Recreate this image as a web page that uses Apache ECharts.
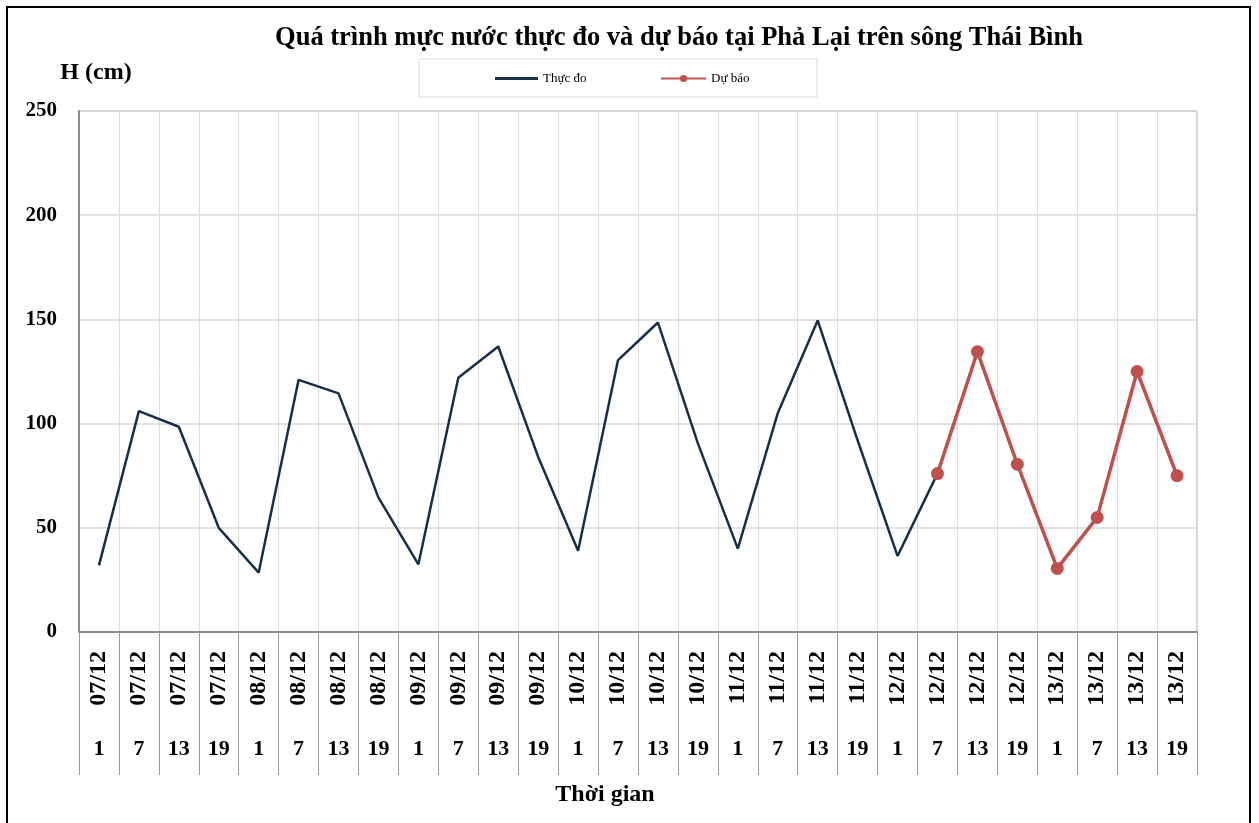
<!DOCTYPE html>
<html>
<head>
<meta charset="utf-8">
<title>Phả Lại</title>
<script src="https://cdn.jsdelivr.net/npm/echarts@6/dist/echarts.min.js"></script>
<style>
html, body { margin: 0; padding: 0; background: #ffffff; }
#main { width: 1259px; height: 823px; }
</style>
</head>
<body>
<div id="main"></div>
<script>
// ngày và giờ của từng mốc
var dates = ['07/12', '07/12', '07/12', '07/12', '08/12', '08/12', '08/12', '08/12',
             '09/12', '09/12', '09/12', '09/12', '10/12', '10/12', '10/12', '10/12',
             '11/12', '11/12', '11/12', '11/12', '12/12', '12/12', '12/12', '12/12',
             '13/12', '13/12', '13/12', '13/12'];
var hours = ['1', '7', '13', '19', '1', '7', '13', '19', '1', '7', '13', '19', '1', '7',
             '13', '19', '1', '7', '13', '19', '1', '7', '13', '19', '1', '7', '13', '19'];

// mực nước thực đo (cm)
var thucDo = [32, 106, 98.5, 50, 28.5, 121, 114.5, 64.5, 32.5, 122, 137, 84, 39, 130.5,
              148.5, 90.5, 40, 105, 149.5, 92, 36.5, 76,
              null, null, null, null, null, null];
// mực nước dự báo (cm)
var duBao = [null, null, null, null, null, null, null, null, null, null, null, null, null, null,
             null, null, null, null, null, null, null,
             76, 134.5, 80.5, 30.5, 55, 125, 75];

var yTicks = { min: 0, max: 250, step: 50 };

var serif = '"Liberation Serif", "Times New Roman", "DejaVu Serif", serif';

var myChart = echarts.init(document.getElementById('main'));

var legendText = {
    fontFamily: serif,
    fontSize: 13,
    color: '#000000'
};

var option = {
    animation: false,
    backgroundColor: '#ffffff',
    title: {
        text: 'Quá trình mực nước thực đo và dự báo tại Phả Lại trên sông Thái Bình',
        left: 674,
        textAlign: 'center',
        top: 20,
        textStyle: {
            fontFamily: serif,
            fontSize: 26.5,
            fontWeight: 'bold',
            color: '#000000'
        }
    },
    // hai chú thích riêng: thực đo chỉ có đường, dự báo có chấm tròn
    legend: [
        {
            left: 490,
            top: 67,
            itemWidth: 43,
            itemHeight: 3,
            icon: 'rect',
            textStyle: legendText,
            data: ['Thực đo']
        },
        {
            left: 655,
            top: 67,
            itemWidth: 45,
            itemHeight: 9,
            textStyle: legendText,
            data: ['Dự báo']
        }
    ],
    graphic: [
        {
            // khung ngoài
            type: 'rect',
            silent: true,
            shape: { x: 7, y: 7, width: 1243, height: 860 },
            style: { fill: 'none', stroke: '#000000', lineWidth: 2 }
        },
        {
            // khung chú thích
            type: 'rect',
            silent: true,
            shape: { x: 419, y: 59, width: 398, height: 38 },
            style: { fill: 'none', stroke: '#d9d9d9', lineWidth: 1 }
        }
    ],
    grid: {
        left: 79,
        right: 62,
        top: 111,
        bottom: 191,
        outerBoundsMode: 'none',
        show: true,
        borderColor: '#a6a6a6',
        borderWidth: 1
    },
    xAxis: [
        {
            type: 'category',
            data: dates,
            position: 'bottom',
            boundaryGap: true,
            axisLine: { show: true, lineStyle: { color: '#8c8c8c', width: 2 } },
            axisTick: {
                show: true,
                interval: 0,
                length: 143,
                lineStyle: { color: '#9a9a9a', width: 1 }
            },
            splitLine: { show: true, interval: 0, lineStyle: { color: '#dcdcdc', width: 1 } },
            axisLabel: {
                interval: 0,
                rotate: 90,
                margin: 19,
                fontFamily: serif,
                fontSize: 24,
                fontWeight: 'bold',
                color: '#000000'
            }
        },
        {
            type: 'category',
            data: hours,
            position: 'bottom',
            offset: 0,
            axisLine: { show: false },
            axisTick: { show: false },
            splitLine: { show: false },
            axisLabel: {
                interval: 0,
                margin: 106,
                fontFamily: serif,
                fontSize: 22,
                fontWeight: 'bold',
                color: '#000000'
            },
            name: 'Thời gian',
            nameLocation: 'middle',
            nameGap: 151,
            nameTextStyle: {
                fontFamily: serif,
                fontSize: 24,
                fontWeight: 'bold',
                color: '#000000',
                padding: [0, 66, 0, 0]
            }
        }
    ],
    yAxis: {
        type: 'value',
        min: yTicks.min,
        max: yTicks.max,
        interval: yTicks.step,
        name: 'H (cm)',
        nameLocation: 'end',
        nameGap: 38,
        nameTextStyle: {
            fontFamily: serif,
            fontSize: 24,
            fontWeight: 'bold',
            color: '#000000',
            align: 'center',
            verticalAlign: 'middle',
            padding: [0, 0, 0, 34]
        },
        axisLine: { show: true, lineStyle: { color: '#8c8c8c', width: 2 } },
        axisTick: { show: false },
        splitLine: { show: true, lineStyle: { color: '#d9d9d9', width: 1.5 } },
        axisLabel: {
            margin: 22,
            fontFamily: serif,
            fontSize: 21,
            fontWeight: 'bold',
            color: '#000000'
        }
    },
    series: [
        {
            name: 'Thực đo',
            type: 'line',
            data: thucDo,
            symbol: 'none',
            connectNulls: false,
            lineStyle: { color: '#1b2e48', width: 2.5 },
            itemStyle: { color: '#1b2e48' },
            z: 2
        },
        {
            name: 'Dự báo',
            type: 'line',
            data: duBao,
            symbol: 'circle',
            symbolSize: 13,
            connectNulls: false,
            lineStyle: { color: '#c0504d', width: 3.5 },
            itemStyle: { color: '#c0504d' },
            z: 3
        }
    ]
};

myChart.setOption(option);
</script>
</body>
</html>
